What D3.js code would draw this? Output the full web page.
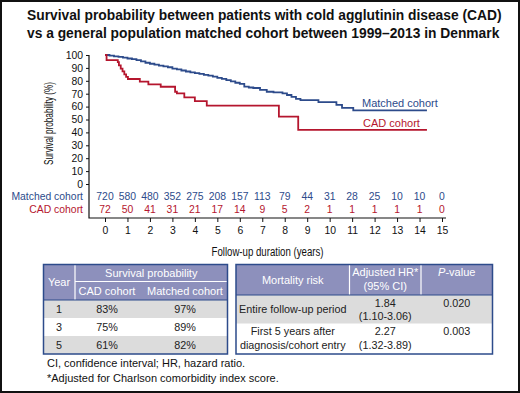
<!DOCTYPE html>
<html lang="en">
<head>
  <meta charset="UTF-8">
  <title>CAD survival</title>
  <script src="https://d3js.org/d3.v7.min.js"></script>
  <style>
    body { margin: 0; background: #fff; }
    svg { display: block; font-family: 'Liberation Sans', Arial, sans-serif; }
  </style>
</head>
<body>
  <svg id="chart" width="520" height="393"></svg>
  <script>
    // ---- data ----
    const titleLines = [
      "Survival probability between patients with cold agglutinin disease (CAD)",
      "vs a general population matched cohort between 1999\u20132013 in Denmark"
    ];
    const xTicks = [0, 1, 2, 3, 4, 5, 6, 7, 8, 9, 10, 11, 12, 13, 14, 15];
    const yTicks = [0, 10, 20, 30, 40, 50, 60, 70, 80, 90, 100];

    const riskMatched = [720, 580, 480, 352, 275, 208, 157, 113, 79, 44, 31, 28, 25, 10, 10, 0];
    const riskCAD = [72, 50, 41, 31, 21, 17, 14, 9, 5, 2, 1, 1, 1, 1, 1, 0];

    const matchedTime = [0, 0.2, 0.4, 0.6, 0.8, 1.0, 1.2, 1.4, 1.6, 1.8, 2.0, 2.2, 2.4, 2.6, 2.8, 3.0,
      3.2, 3.4, 3.6, 3.8, 4.0, 4.2, 4.4, 4.6, 4.8, 5.0, 5.2, 5.4, 5.6, 5.8, 6.0, 6.2, 6.4, 6.6,
      6.9, 7.2, 7.5, 7.9, 8.1, 8.3, 8.5, 8.7, 9.5, 10.3, 10.55, 11.05, 14.33];
    const matchedSurv = [100, 99.5, 99, 98.5, 98, 97.3, 96.8, 96, 95, 94, 93.2, 92.5, 91.8, 91.2, 90.5, 89.5,
      88.8, 88, 87.2, 86.5, 86, 85.4, 84.6, 84, 83.2, 82.2, 81.5, 80.5, 79.5, 78.5, 77.6, 75.5, 74.8, 74.4,
      73, 71.5, 71, 70.3, 69, 67.5, 66, 65, 63.5, 61.3, 59, 57, 57];

    const cadTime = [0, 0.07, 0.57, 0.62, 0.7, 0.78, 0.86, 0.94, 1.02, 1.55, 1.93, 2.48, 3.12, 3.2,
      3.53, 4.0, 4.53, 7.74, 8.6, 14.33];
    const cadSurv = [100, 96, 94.4, 92, 89.5, 87.3, 85, 83, 81.4, 79.3, 77.3, 75.4, 71.5, 70.3,
      67.2, 64.3, 60.7, 52.2, 41.9, 41.9];

    const survYears = ["1", "3", "5"];
    const survCAD = ["83%", "75%", "61%"];
    const survMatched = ["97%", "89%", "82%"];

    const riskLabels = [["Entire follow-up period"], ["First 5 years after", "diagnosis/cohort entry"]];
    const riskHR = [["1.84", "(1.10-3.06)"], ["2.27", "(1.32-3.89)"]];
    const riskP = ["0.020", "0.003"];

    const footnotes = [
      "CI, confidence interval; HR, hazard ratio.",
      "*Adjusted for Charlson comorbidity index score."
    ];

    const blue = "#2d4b8b", red = "#b5162e";
    const headFill = "#8d90bc", greyRow = "#dcdcdc", border = "#2d4b8b";

    const svg = d3.select("#chart");

    // frame
    svg.append("rect").attr("x", 1).attr("y", 1).attr("width", 518).attr("height", 391)
      .attr("fill", "#fff").attr("stroke", "#111").attr("stroke-width", 2);

    // title
    svg.selectAll(".title").data(titleLines).enter().append("text")
      .attr("class", "title")
      .attr("x", 27).attr("y", (d, i) => 20 + i * 17.5)
      .attr("font-size", 13.8).attr("font-weight", "bold").attr("fill", "#111")
      .text(d => d);

    // ---- KM plot ----
    const x = d3.scaleLinear().domain([0, 15]).range([105, 442]);
    const y = d3.scaleLinear().domain([0, 100]).range([184, 55]);

    const yAxis = svg.append("g").attr("transform", "translate(89,0)")
      .call(d3.axisLeft(y).tickValues(yTicks).tickSize(3).tickPadding(3));
    yAxis.select(".domain").remove();
    yAxis.selectAll("text").attr("font-size", 10.4).attr("fill", "#111").attr("font-family", "'Liberation Sans', Arial, sans-serif");
    yAxis.selectAll("line").attr("stroke", "#111");

    const xAxis = svg.append("g").attr("transform", "translate(0,218)")
      .call(d3.axisBottom(x).tickValues(xTicks).tickSize(4).tickPadding(5));
    xAxis.select(".domain").remove();
    xAxis.selectAll("text").attr("font-size", 10.4).attr("fill", "#111").attr("font-family", "'Liberation Sans', Arial, sans-serif");
    xAxis.selectAll("line").attr("stroke", "#111");

    // L-shaped axis frame
    svg.append("path").attr("d", "M89,55V218H446").attr("fill", "none").attr("stroke", "#111").attr("stroke-width", 1.2);

    // condensed axis titles
    svg.append("text")
      .attr("transform", "translate(52.5,123.5) rotate(-90)")
      .attr("text-anchor", "middle").attr("font-size", 12.5).attr("fill", "#111")
      .attr("textLength", 83).attr("lengthAdjust", "spacingAndGlyphs")
      .text("Survival probability (%)");

    svg.append("text")
      .attr("x", 267.5).attr("y", 256)
      .attr("text-anchor", "middle").attr("font-size", 12.5).attr("fill", "#111")
      .attr("textLength", 112).attr("lengthAdjust", "spacingAndGlyphs")
      .text("Follow-up duration (years)");

    const line = d3.line().curve(d3.curveStepAfter).x(d => x(d[0])).y(d => y(d[1]));
    const series = [
      { t: matchedTime, s: matchedSurv, c: blue },
      { t: cadTime, s: cadSurv, c: red }
    ];
    series.forEach(sr => {
      const pts = sr.t.map((t, i) => [t, sr.s[i]]);
      svg.append("path").datum(pts).attr("d", line)
        .attr("fill", "none").attr("stroke", sr.c).attr("stroke-width", 1.8);
    });

    svg.append("text").attr("x", 362).attr("y", 107).attr("font-size", 11).attr("fill", blue).text("Matched cohort");
    svg.append("text").attr("x", 363).attr("y", 127).attr("font-size", 11).attr("fill", red).text("CAD cohort");

    // numbers at risk
    const riskRows = [
      { label: "Matched cohort", vals: riskMatched, c: blue, yy: 200 },
      { label: "CAD cohort", vals: riskCAD, c: red, yy: 213 }
    ];
    riskRows.forEach(r => {
      svg.append("text").attr("x", 83).attr("y", r.yy).attr("text-anchor", "end")
        .attr("font-size", 10.4).attr("fill", r.c).text(r.label);
      svg.selectAll(null).data(r.vals).enter().append("text")
        .attr("x", (d, i) => x(xTicks[i])).attr("y", r.yy)
        .attr("text-anchor", "middle").attr("font-size", 10.4).attr("fill", r.c)
        .text(d => d);
    });

    // ---- left table ----
    const L = { x0: 43.5, xs: 75, x1: 227.5, rows: [264.5, 281.5, 300, 318, 336, 354] };
    const colCAD = 107, colMatched = 185, colYear = 59;
    svg.append("rect").attr("x", L.x0).attr("y", L.rows[0]).attr("width", L.x1 - L.x0).attr("height", L.rows[2] - L.rows[0]).attr("fill", headFill);
    survYears.forEach((d, i) => {
      svg.append("rect").attr("x", L.x0).attr("y", L.rows[2 + i]).attr("width", L.x1 - L.x0)
        .attr("height", L.rows[3 + i] - L.rows[2 + i]).attr("fill", i === 1 ? "#fff" : greyRow);
    });
    svg.append("line").attr("x1", L.xs).attr("x2", L.xs).attr("y1", L.rows[0]).attr("y2", L.rows[2]).attr("stroke", "#fff").attr("stroke-width", 1.2);
    svg.append("line").attr("x1", L.xs).attr("x2", L.x1).attr("y1", L.rows[1]).attr("y2", L.rows[1]).attr("stroke", "#fff").attr("stroke-width", 1.2);
    svg.append("line").attr("x1", L.x0).attr("x2", L.x1).attr("y1", L.rows[2]).attr("y2", L.rows[2]).attr("stroke", border).attr("stroke-width", 1);
    svg.append("rect").attr("x", L.x0).attr("y", L.rows[0]).attr("width", L.x1 - L.x0).attr("height", L.rows[5] - L.rows[0])
      .attr("fill", "none").attr("stroke", border).attr("stroke-width", 1.5);

    const th = (xx, yy, t) => svg.append("text").attr("x", xx).attr("y", yy).attr("text-anchor", "middle")
      .attr("font-size", 11).attr("fill", "#fff").text(t);
    const td = (xx, yy, t) => svg.append("text").attr("x", xx).attr("y", yy).attr("text-anchor", "middle")
      .attr("font-size", 10.8).attr("fill", "#222").text(t);

    th(colYear, 286, "Year");
    th((L.xs + L.x1) / 2, 277, "Survival probability");
    th(colCAD, 295, "CAD cohort");
    th(colMatched, 295, "Matched cohort");
    survYears.forEach((d, i) => {
      const yy = L.rows[2 + i] + 13;
      td(colYear, yy, d);
      td(colCAD, yy, survCAD[i]);
      td(colMatched, yy, survMatched[i]);
    });

    // ---- right table ----
    const R = { cols: [236, 349.5, 421, 492.5], rows: [264.5, 295, 323.5, 354] };
    svg.append("rect").attr("x", R.cols[0]).attr("y", R.rows[0]).attr("width", R.cols[3] - R.cols[0]).attr("height", R.rows[1] - R.rows[0]).attr("fill", headFill);
    svg.append("rect").attr("x", R.cols[0]).attr("y", R.rows[1]).attr("width", R.cols[3] - R.cols[0]).attr("height", R.rows[2] - R.rows[1]).attr("fill", greyRow);
    [R.cols[1], R.cols[2]].forEach(cx => {
      svg.append("line").attr("x1", cx).attr("x2", cx).attr("y1", R.rows[0]).attr("y2", R.rows[1]).attr("stroke", "#fff").attr("stroke-width", 1.2);
    });
    svg.append("line").attr("x1", R.cols[0]).attr("x2", R.cols[3]).attr("y1", R.rows[1]).attr("y2", R.rows[1]).attr("stroke", border).attr("stroke-width", 1);
    svg.append("rect").attr("x", R.cols[0]).attr("y", R.rows[0]).attr("width", R.cols[3] - R.cols[0]).attr("height", R.rows[3] - R.rows[0])
      .attr("fill", "none").attr("stroke", border).attr("stroke-width", 1.5);

    const c1 = (R.cols[0] + R.cols[1]) / 2, c2 = (R.cols[1] + R.cols[2]) / 2, c3 = (R.cols[2] + R.cols[3]) / 2;
    th(c1, 284, "Mortality risk");
    th(c2, 276, "Adjusted HR*");
    th(c2, 290, "(95% CI)");
    const pv = svg.append("text").attr("x", c3).attr("y", 276).attr("text-anchor", "middle")
      .attr("font-size", 11).attr("fill", "#fff");
    pv.append("tspan").attr("font-style", "italic").text("P");
    pv.append("tspan").text("-value");

    riskLabels.forEach((lab, i) => {
      const y0 = R.rows[1 + i] + 11.5;
      lab.forEach((t, j) => {
        const yy = lab.length === 1 ? y0 + 6.5 : y0 + j * 13.5;
        td(c1, yy, t);
      });
      riskHR[i].forEach((t, j) => td(c2, y0 + j * 13.5, t));
      td(c3, y0, riskP[i]);
    });

    // footnotes
    svg.selectAll(".fn").data(footnotes).enter().append("text")
      .attr("class", "fn").attr("x", 47).attr("y", (d, i) => 367 + i * 14.5)
      .attr("font-size", 11).attr("fill", "#111").text(d => d);
  </script>
</body>
</html>
